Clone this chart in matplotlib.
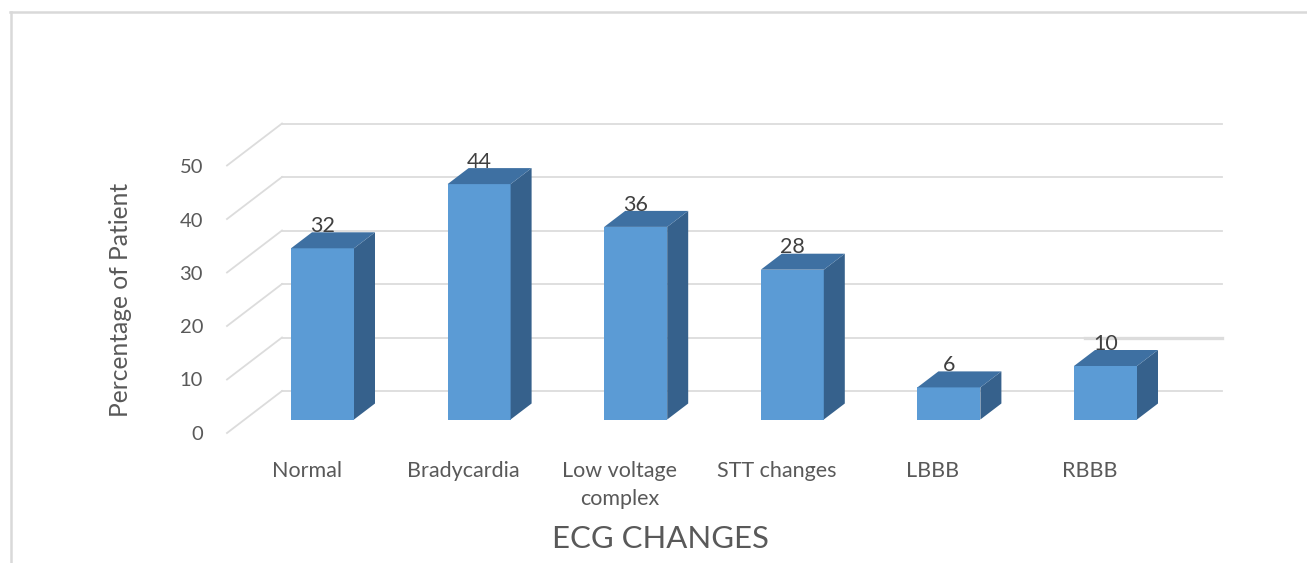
from matplotlib import pyplot as plt
from matplotlib.patches import Polygon
import numpy as np

categories = ["Normal", "Bradycardia", "Low voltage\ncomplex", "STT changes", "LBBB", "RBBB"]
values = [32, 44, 36, 28, 6, 10]
y_ticks = [0, 10, 20, 30, 40, 50]

W, H = 1307, 563
X_UNIT = 156.6  # px per category
Y_UNIT = 5.35  # px per percent
X0, Y0 = 322.5, 419.5  # pixel of first bar centre / zero line


def px_x(p):
    return (p - X0) / X_UNIT


def px_y(p):
    return (Y0 - p) / Y_UNIT


plt.rcParams["font.family"] = ["Lato", "DejaVu Sans"]

fig = plt.figure(figsize=(W / 100, H / 100), dpi=100)
ax = fig.add_axes([0, 0, 1, 1])
ax.set_xlim(px_x(0), px_x(W))
ax.set_ylim(px_y(H), px_y(0))
ax.axis("off")

# Bar geometry
bar_w = 63 / X_UNIT
dx = 21 / X_UNIT
dy = 16 / Y_UNIT

# Grid: back wall and left side wall
grid_color = "#dcdcdc"
for t in y_ticks:
    back = px_y(391) + t
    front = px_y(433) + t
    ax.plot([px_x(282), px_x(1222)], [back, back], color=grid_color, lw=1.3, zorder=1)
    ax.plot([px_x(227), px_x(282)], [front, back], color=grid_color, lw=1.3, zorder=1)
    ax.text(px_x(203), px_y(434) + t * 0.995, str(t), ha="right", va="center", fontsize=14.5, color="#595959")

# The thicker piece of the 10 line at the right
ax.plot([px_x(1085), px_x(1222)], [px_y(391) + 10] * 2, color=grid_color, lw=2.4, zorder=1)

# Bars
for i, v in enumerate(values):
    left = i - bar_w / 2
    right = i + bar_w / 2
    ax.add_patch(Polygon([(left, 0), (right, 0), (right, v), (left, v)], color="#5b9bd5", lw=0, zorder=3))
    ax.add_patch(Polygon([(right, 0), (right + dx, dy), (right + dx, v + dy), (right, v)], color="#36618c", lw=0, zorder=3))
    ax.add_patch(Polygon([(left, v), (right, v), (right + dx, v + dy), (left + dx, v + dy)], color="#3e70a2", lw=0, zorder=3))
    ax.text(i, v + dy - 0.7, str(v), ha="center", va="bottom", fontsize=15.5, color="#404040", zorder=4)

# Category labels
for i, c in enumerate(categories):
    ax.text(i - 16 / X_UNIT, px_y(461), c, ha="center", va="top", fontsize=15.5,
            color="#595959", linespacing=1.5, zorder=4)

ax.text(px_x(660), px_y(539), "ECG CHANGES", ha="center", va="center", fontsize=22.4, color="#595959")
ax.text(px_x(120), px_y(300), "Percentage of Patient", rotation=90, ha="center", va="center",
        fontsize=17.7, color="#595959")

# Outer frame, cut by the image edges
ax.plot([px_x(10), px_x(W)], [px_y(12.5)] * 2, color="#d9d9d9", lw=1.8, zorder=1)
ax.plot([px_x(10.5)] * 2, [px_y(12), px_y(H)], color="#d9d9d9", lw=1.8, zorder=1)

fig.savefig("out.png", dpi=100)
plt.close()
